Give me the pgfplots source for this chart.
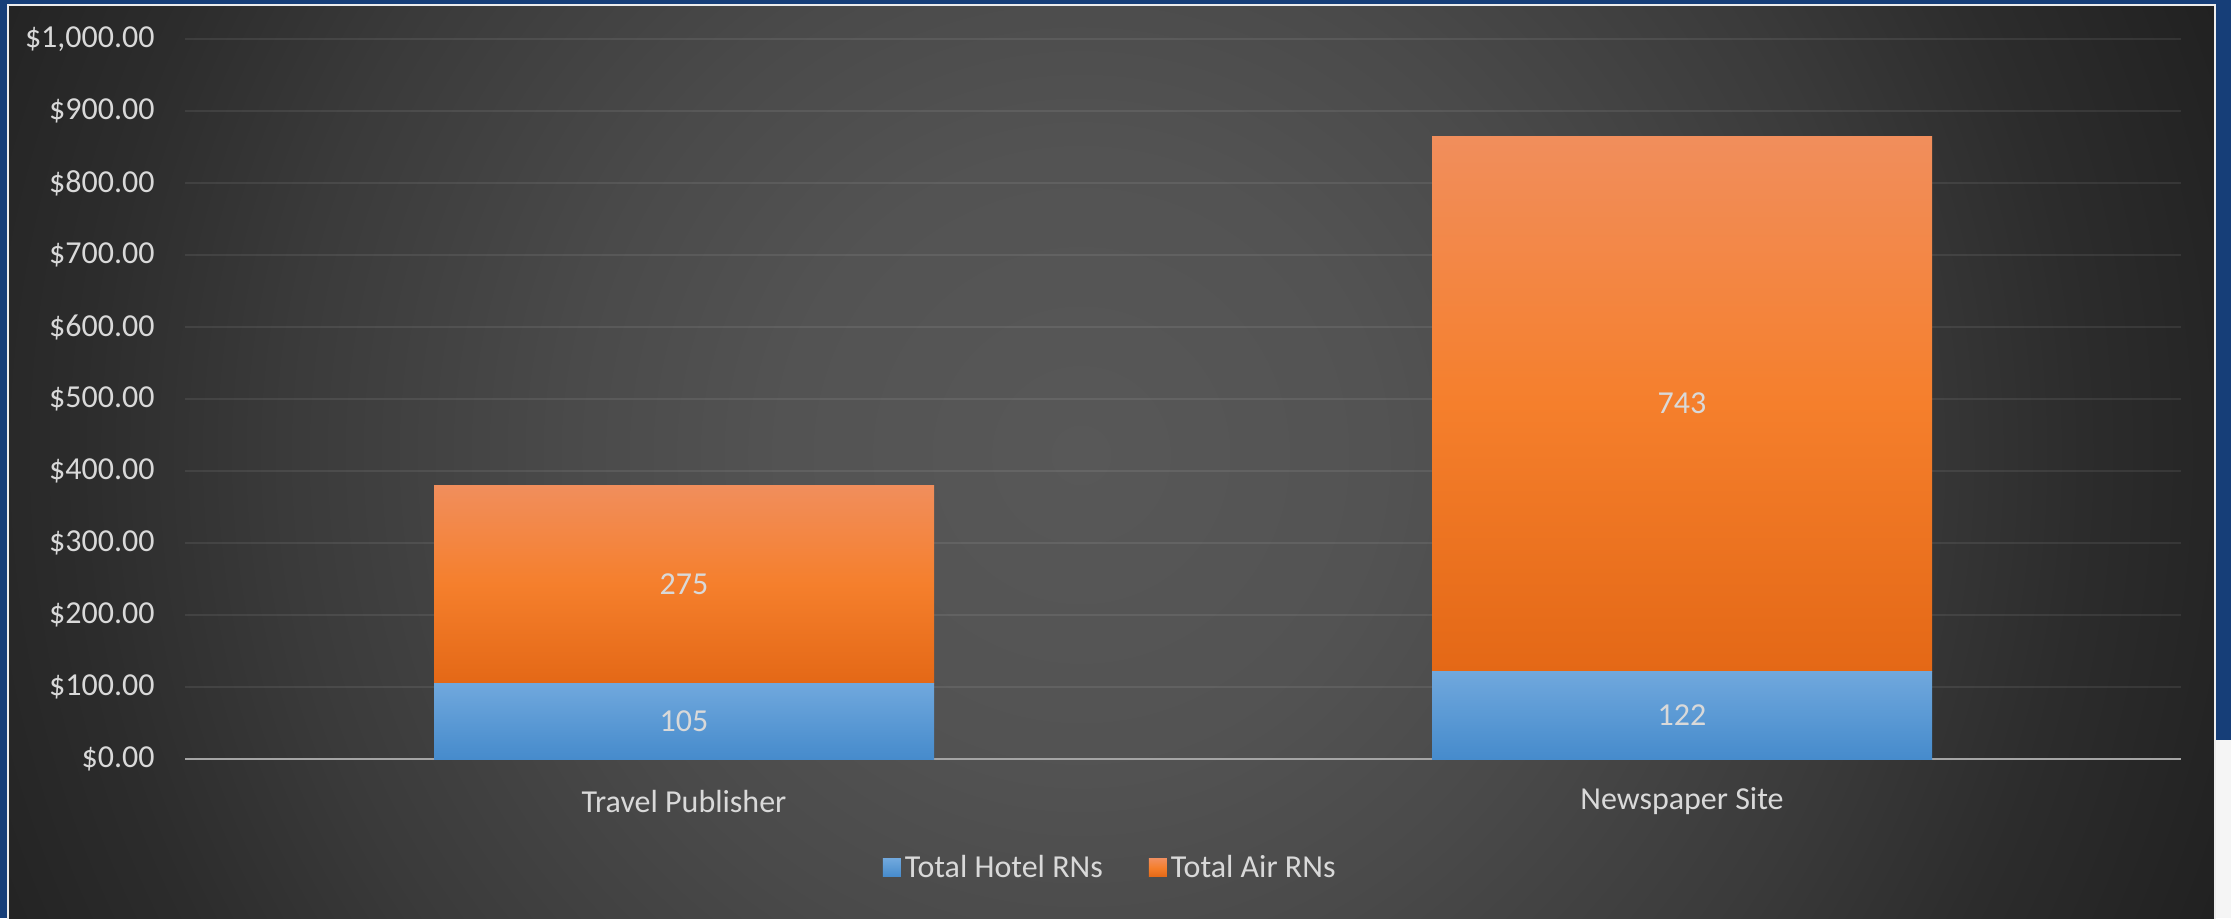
\documentclass[border=0pt]{standalone}
\usepackage{fontspec}
\setmainfont{Carlito}
\usepackage{pgfplots}
\pgfplotsset{compat=1.18}
\usepackage{pgfplotstable}

\definecolor{borderblue}{RGB}{22,62,120}
\definecolor{bg0}{RGB}{88,88,88}
\definecolor{bg1}{RGB}{83,83,83}
\definecolor{bg2}{RGB}{74,74,74}
\definecolor{bg3}{RGB}{58,58,58}
\definecolor{bg4}{RGB}{44,44,44}
\definecolor{bg5}{RGB}{32,32,32}
\definecolor{zeroc}{RGB}{165,165,165}
\definecolor{lblc}{RGB}{217,217,217}
\definecolor{hotelTop}{RGB}{112,168,221}
\definecolor{hotelBot}{RGB}{70,139,204}
\definecolor{airTop}{RGB}{241,142,92}
\definecolor{airMid}{RGB}{245,127,44}
\definecolor{airBot}{RGB}{228,104,22}

% the inner 25bp radius is stretched to the circle's radius
\pgfdeclareradialshading{bgshade}{\pgfpoint{0bp}{0bp}}{color(0bp)=(bg0); color(6bp)=(bg1); color(10.3bp)=(bg2); color(16.1bp)=(bg3); color(20.2bp)=(bg4); color(25bp)=(bg5); color(50bp)=(bg5)}

% one column per bar so that each bar gets its own gradient
\pgfplotstableread{
x hotelTP hotelNS airTP airNS
0 105 0 275 0
1 0 122 0 743
}\datatable

\begin{document}
\begin{tikzpicture}
\useasboundingbox (0,0) rectangle (1115.5pt,459pt);
\fill[borderblue] (0,0) rectangle (1115.5pt,459pt);
\begin{scope}
\clip (4pt,0) rectangle (1107.5pt,456.5pt);
\fill[bg5] (4pt,0) rectangle (1107.5pt,456.5pt);
\shade[shading=bgshade] (540.5pt,231.5pt) circle (620pt);
\end{scope}
\draw[white!85!gray, line width=0.6pt] (4pt,-2pt) -- (4pt,456.5pt) -- (1107.5pt,456.5pt) -- (1107.5pt,-2pt);
\fill[white!92!gray] (1108pt,0) rectangle (1115.5pt,89pt);
\begin{axis}[
  at={(92.5pt,79.5pt)}, anchor=south west, scale only axis,
  width=998pt, height=360pt,
  xmin=-0.5, xmax=1.5, ymin=0, ymax=1000,
  ybar stacked, bar width=250pt,
  xtick={0,1}, xticklabels={Travel Publisher,Newspaper Site},
  ytick={0,100,...,1000},
  yticklabel={\$\pgfmathprintnumber[fixed,fixed zerofill,precision=2,1000 sep={,}]{\tick}},
  /pgf/number format/assume math mode=true,
  axis line style={draw=none},
  major tick length=0pt,
  ymajorgrids, grid style={white, opacity=0.08, line width=1pt},
  extra y ticks={0}, extra y tick labels={},
  extra y tick style={grid style={zeroc, opacity=1, line width=1.1pt}},
  tick label style={font=\fontsize{16}{19}\selectfont, text=lblc},
  xticklabel style={anchor=center, yshift=-21pt},
  yticklabel style={anchor=east, inner sep=0pt, xshift=-15pt},
  visualization depends on={rawy \as \rawy},
  nodes near coords={\ifdim\rawy pt>0pt\relax\pgfmathprintnumber[fixed,precision=0]{\rawy}\fi},
  every node near coord/.append style={anchor=center, font=\fontsize{16}{19}\selectfont, text=lblc},
  legend columns=2,
  legend style={at={(0.464,-0.151)}, anchor=center, draw=none, fill=none,
    text=lblc, font=\fontsize{16}{19}\selectfont,
    /tikz/every even column/.append style={column sep=21pt}},
  legend image code/.code={\fill[#1] (0pt,-4.5pt) rectangle (9pt,4.5pt);},
  clip=false,
]
\addplot[draw=none, top color=hotelTop, bottom color=hotelBot] table[x=x,y=hotelTP]{\datatable};
\addplot[draw=none, top color=hotelTop, bottom color=hotelBot, forget plot] table[x=x,y=hotelNS]{\datatable};
\addplot[draw=none, top color=airTop, bottom color=airBot, middle color=airMid] table[x=x,y=airTP]{\datatable};
\addplot[draw=none, top color=airTop, bottom color=airBot, middle color=airMid, forget plot] table[x=x,y=airNS]{\datatable};
\legend{Total Hotel RNs, Total Air RNs}
\end{axis}
\end{tikzpicture}
\end{document}
